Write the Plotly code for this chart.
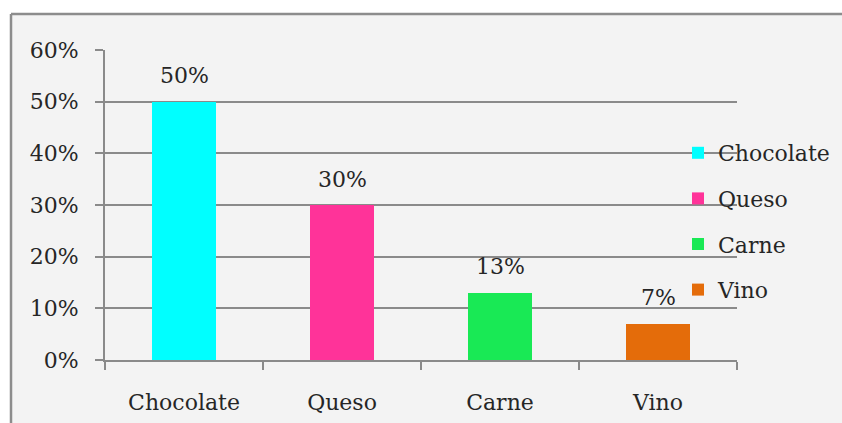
import plotly.graph_objects as go

categories = ["Chocolate", "Queso", "Carne", "Vino"]
shares = [0.50, 0.30, 0.13, 0.07]
colors = ["#00FFFF", "#FF3399", "#19E955", "#E46C0A"]
y_ticks = [0, 0.1, 0.2, 0.3, 0.4, 0.5, 0.6]
y_labels = ["0%", "10%", "20%", "30%", "40%", "50%", "60%"]

W, H = 842, 423
ML, MR, MT, MB = 105, 105, 50, 63
PW, PH = W - ML - MR, H - MT - MB

FONT = "DejaVu Serif"
FS = 22
TEXT = "#262626"
GRID = "#8A8A8A"
FRAME = "#8C8C8C"

fig = go.Figure()
for cat, val, col in zip(categories, shares, colors):
    fig.add_trace(go.Bar(
        x=[cat], y=[val], name=cat, marker=dict(color=col, line=dict(width=0)),
        width=0.405, legendgroup=cat, showlegend=True,
    ))
    fig.add_annotation(
        x=cat, y=val, text=f"{round(val * 100)}%", showarrow=False,
        yanchor="middle", yshift=26, font=dict(family=FONT, size=FS, color=TEXT),
    )

# chart area background, framed on the top and left edges
fx0, fx1 = (11 - ML) / PW, (W + 30 - ML) / PW
fy0, fy1 = -(H + 30 - MT - PH) / PH, (MT + PH - 14) / PH
fig.add_shape(type="rect", xref="paper", yref="paper", layer="below",
              x0=fx0, x1=fx1, y0=fy0, y1=fy1,
              fillcolor="#F3F3F3", line=dict(width=0))
fig.add_shape(type="line", xref="paper", yref="paper", layer="below",
              x0=fx0, x1=fx1, y0=fy1, y1=fy1, line=dict(color=FRAME, width=2.5))
fig.add_shape(type="line", xref="paper", yref="paper", layer="below",
              x0=fx0, x1=fx0, y0=fy0, y1=fy1, line=dict(color=FRAME, width=2.5))

fig.update_layout(
    width=W, height=H,
    margin=dict(l=ML, r=MR, t=MT, b=MB, pad=0, autoexpand=False),
    paper_bgcolor="white", plot_bgcolor="rgba(0,0,0,0)",
    barmode="overlay", bargap=0,
    font=dict(family=FONT, size=FS, color=TEXT),
    legend=dict(
        x=(678 - ML) / PW, xanchor="left", y=(MT + PH - 132) / PH, yanchor="top",
        bgcolor="rgba(0,0,0,0)", tracegroupgap=14, traceorder="grouped",
        font=dict(family=FONT, size=FS, color=TEXT),
    ),
    showlegend=True,
)
fig.update_xaxes(
    type="category", categoryorder="array", categoryarray=categories,
    showgrid=False, showline=True, linecolor=GRID, linewidth=2,
    ticks="outside", tickson="boundaries", ticklen=8, tickcolor=GRID, tickwidth=2,
    ticklabelstandoff=22, zeroline=False, automargin=False,
)
fig.update_yaxes(
    range=[0, 0.6], tickvals=y_ticks, ticktext=y_labels,
    showgrid=True, gridcolor=GRID, gridwidth=2,
    showline=True, linecolor=GRID, linewidth=2,
    ticks="outside", ticklen=8, tickcolor=GRID, tickwidth=2,
    ticklabelstandoff=12, zeroline=False, automargin=False,
)

fig.write_html("out.html", config={"displayModeBar": False})
